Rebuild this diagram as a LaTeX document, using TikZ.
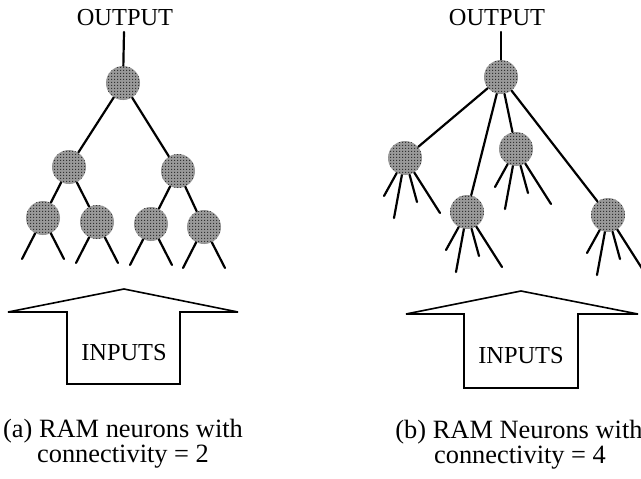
\documentclass[tikz,border=0pt]{standalone}
\usepackage{fontspec}
\setmainfont{Liberation Serif}
\usetikzlibrary{patterns.meta}
% fine halftone dots for the neuron bodies
\tikzdeclarepattern{
  name=stipple,
  type=uncolored,
  bottom left={(0pt,0pt)},
  top right={(1.5pt,1.5pt)},
  tile size={(1.5pt,1.5pt)},
  code={\fill (0pt,0pt) rectangle (0.75pt,0.75pt);}
}
\tikzset{
  neuron/.style={circle, fill=black!40, postaction={pattern=stipple, pattern color=black!80},
    minimum size=17pt, inner sep=0pt},
  wire/.style={line width=1.1pt, line cap=round},
  inarrow/.style={line width=0.8pt, line join=miter},
  label/.style={anchor=base, inner sep=0pt, font=\fontsize{12.2}{14}\selectfont},
  caption/.style={anchor=base, inner sep=0pt, font=\fontsize{13.2}{15}\selectfont},
}
\begin{document}
\begin{tikzpicture}[x=0.5pt, y=-0.5pt]
\useasboundingbox (0,0) rectangle (641,478);

% ---------- (a) connectivity 2: binary tree ----------
\node[label] (outA) at (125,25) {OUTPUT};
\coordinate (outAend) at (124,32);
\node[neuron] (r) at (123,83) {};
\node[neuron] (l) at (69,167) {};
\node[neuron] (m) at (178,171) {};
\node[neuron] (n1) at (43,218) {};
\node[neuron] (n2) at (97,222) {};
\node[neuron] (n3) at (151,224) {};
\node[neuron] (n4) at (204,227) {};
\draw[wire] (outAend) -- (r);
\draw[wire] (r) -- (l);
\draw[wire] (r) -- (m);
\draw[wire] (l) -- (n1);
\draw[wire] (l) -- (n2);
\draw[wire] (m) -- (n3);
\draw[wire] (m) -- (n4);
\foreach \n in {n1,n2,n3,n4} {
  \coordinate (\n a) at ([shift={(-21,41)}]\n.center);
  \coordinate (\n b) at ([shift={(21,41)}]\n.center);
  \draw[wire] (\n) -- (\n a);
  \draw[wire] (\n) -- (\n b);
}

% input arrow (a)
\draw[inarrow] (8,312) -- (124,289) -- (238,312) -- (180,312) -- (180,384)
  -- (67,384) -- (67,312) -- cycle;
\node[label] (inA) at (124,360) {INPUTS};

\node[caption] (capA1) at (123,437) {(a) RAM neurons with};
\node[caption] (capA2) at (123,462) {connectivity = 2};

% ---------- (b) connectivity 4 ----------
\node[label] (outB) at (497,25) {OUTPUT};
\coordinate (outBend) at (501,32);
\node[neuron] (R) at (501,77) {};
\node[neuron] (A) at (405,158) {};
\node[neuron] (B) at (467,212) {};
\node[neuron] (C) at (516,149) {};
\node[neuron] (D) at (608,215) {};
\draw[wire] (outBend) -- (R);
\foreach \n in {A,B,C,D} {
  \draw[wire] (R) -- (\n);
  \foreach \dx/\dy [count=\i] in {-21/38, -11/60, 12/44, 35/55} {
    \coordinate (\n\i) at ([shift={(\dx,\dy)}]\n.center);
    \draw[wire] (\n) -- (\n\i);
  }
}

% input arrow (b)
\draw[inarrow] (406,314) -- (521,291) -- (638,314) -- (578,314) -- (578,388)
  -- (464,388) -- (464,314) -- cycle;
\node[label] (inB) at (521,363) {INPUTS};

\node[caption] (capB1) at (519,438) {(b) RAM Neurons with};
\node[caption] (capB2) at (520,463) {connectivity = 4};
\end{tikzpicture}
\end{document}
